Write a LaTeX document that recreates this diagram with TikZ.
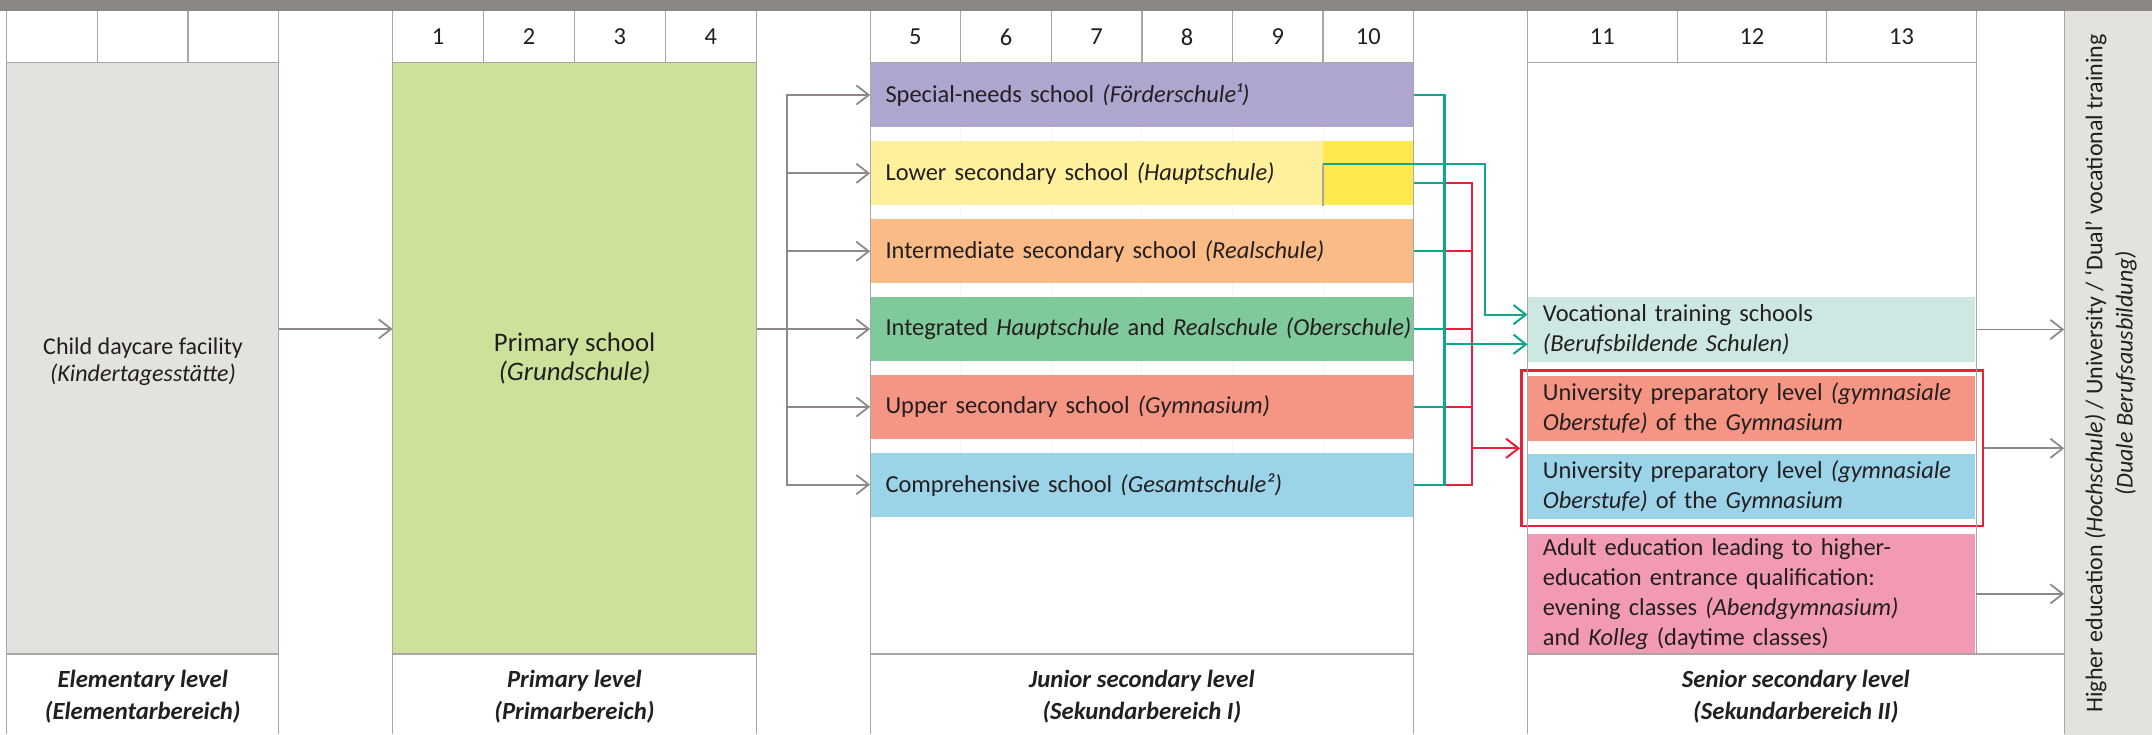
\documentclass[tikz,border=0pt]{standalone}
\usepackage{fontspec}
\setmainfont{Carlito}
\usetikzlibrary{arrows.meta,calc}
\definecolor{topbar}{HTML}{8C8784}
\definecolor{gridc}{HTML}{A9A6A4}
\definecolor{elemc}{HTML}{E3E2DE}
\definecolor{primc}{HTML}{CCE29B}
\definecolor{specc}{HTML}{AFA6CF}
\definecolor{lowc}{HTML}{FFF09B}
\definecolor{lowdc}{HTML}{FFE94E}
\definecolor{intc}{HTML}{FABB86}
\definecolor{integc}{HTML}{80C99B}
\definecolor{uppc}{HTML}{F59584}
\definecolor{compc}{HTML}{9BD3E9}
\definecolor{vocc}{HTML}{CDE8E2}
\definecolor{adultc}{HTML}{F29AB4}
\definecolor{tealc}{HTML}{12A68E}
\definecolor{redc}{HTML}{E8203A}
\definecolor{arrc}{HTML}{8E8986}
\definecolor{txtc}{HTML}{231F20}
\tikzset{
  gl/.style={draw=gridc, line width=0.9pt},
  faint/.style={line width=0.6pt},
  txt/.style={font=\fontsize{17.8}{22}\selectfont, text=txtc},
  numtxt/.style={txt, inner sep=0pt, anchor=center},
  jbox/.style={txt, anchor=north west, minimum height=46.6pt, text width=374pt, inner xsep=11pt, inner ysep=0pt, align=left},
  sbox/.style={txt, anchor=north west, text width=304pt, inner xsep=11pt, inner ysep=0pt, align=left},
  area/.style={anchor=north west, inner sep=0pt, draw=none},
  gline/.style={draw=arrc, line width=1.3pt},
  garrow/.style={gline, -{Straight Barb[length=9pt,width=14pt]}},
  tline/.style={draw=tealc, line width=1.5pt},
  rline/.style={draw=redc, line width=1.5pt},
  tarrow/.style={tline, -{Straight Barb[length=9pt,width=14pt]}},
  rarrow/.style={rline, -{Straight Barb[length=9pt,width=14pt]}},
  lvl/.style={font=\fontsize{18}{23}\selectfont\bfseries\itshape, text=txtc, align=center, inner sep=0pt},
}
\begin{document}
\begin{tikzpicture}[x=1pt,y=-1pt]
\useasboundingbox (0,0) rectangle (1568,535);
\fill[white] (0,0) rectangle (1568,535);
\fill[topbar] (0,0) rectangle (1568,8);

% large areas
\node[area, fill=elemc, minimum width=198pt, minimum height=430.8pt] (elem) at (5,45.7) {};
\node[area, fill=primc, minimum width=265pt, minimum height=430.8pt] (prim) at (286,45.7) {};
\node[area, fill=elemc, minimum width=64pt, minimum height=527pt] (hcol) at (1504,8) {};

% faint column lines in the white gaps of the junior section
\foreach \x in {700,766,832,898,964} \draw[faint, draw=black!4] (\x,45.7) -- (\x,377);

\node[txt, align=center, inner sep=0pt, font=\fontsize{17.5}{19.5}\selectfont] (elemtxt) at ($(elem.center)+(0,2)$) {Child daycare facility\\\textit{(Kindertagesstätte)}};
\node[txt, align=center, inner sep=0pt, font=\fontsize{19.5}{21.5}\selectfont] (primtxt) at (prim.center) {Primary school\\\textit{(Grundschule)}};
\node[txt, rotate=90, align=center, inner sep=0pt, font=\fontsize{17.5}{22}\selectfont] (hedu) at (1538,272) {Higher education \textit{(Hochschule)} / University / ‘Dual’ vocational training\\\textit{(Duale Berufsausbildung)}};

% junior boxes
\node[jbox, fill=specc] (sn) at (634,45.7) {Special-needs school \textit{(Förderschule¹)}};
\node[jbox, fill=lowc] (low) at (634,102.8) {Lower secondary school \textit{(Hauptschule)}};
\node[area, fill=lowdc, minimum width=66pt, minimum height=46.6pt] (low10) at (964,102.8) {};
\node[jbox, fill=intc] (inter) at (634,159.6) {Intermediate secondary school \textit{(Realschule)}};
\node[jbox, fill=integc] (integ) at (634,216.2) {\mbox{Integrated \textit{Hauptschule} and \textit{Realschule (Oberschule)}}};
\node[jbox, fill=uppc] (upper) at (634,273) {Upper secondary school \textit{(Gymnasium)}};
\node[jbox, fill=compc] (comp) at (634,329.6) {Comprehensive school \textit{(Gesamtschule²)}};

% senior boxes
\node[sbox, fill=vocc, minimum height=47.3pt] (voc) at (1113,216.2) {Vocational training schools\\\textit{(Berufsbildende Schulen)}};
\node[sbox, fill=uppc, minimum height=47pt] (supper) at (1113,274) {University preparatory level \textit{(gymnasiale}\\\textit{Oberstufe)} of the \textit{Gymnasium}};
\node[sbox, fill=compc, minimum height=47pt] (scomp) at (1113,330.8) {University preparatory level \textit{(gymnasiale}\\\textit{Oberstufe)} of the \textit{Gymnasium}};
\node[sbox, fill=adultc, minimum height=87.9pt] (adult) at (1113,388.6) {Adult education leading to higher-\\education entrance qualification:\\evening classes \textit{(Abendgymnasium)}\\and \textit{Kolleg} (daytime classes)};
\node[area, draw=redc, line width=1.8pt, minimum width=336.4pt, minimum height=113.5pt] (redbox) at (1107.6,269) {};

% grid
\foreach \a/\b in {5/203,286/551,634/1030,1113/1440} \draw[gl] (\a,45.7) -- (\b,45.7);
\foreach \x in {71,137,352.25,418.5,484.75,700,766,832,898,964,1222,1331} \draw[gl] (\x,8) -- (\x,45.7);
\foreach \x in {5,203,286,551,634,1030,1113,1504} \draw[gl] (\x,8) -- (\x,535);
\draw[gl] (1440,8) -- (1440,476.5);
\foreach \a/\b in {5/203,286/551,634/1030,1113/1504} \draw[gl] (\a,476.5) -- (\b,476.5);

% header numbers
\foreach \x/\t [count=\i] in {319.1/1,385.4/2,451.6/3,517.9/4,667/5,733/6,799/7,865/8,931/9,997/10,1167.5/11,1276.5/12,1385.5/13}
  \node[numtxt] (n\i) at (\x,27) {\t};

% level labels
\node[lvl] (lv1) at (104,507.5) {Elementary level\\(Elementarbereich)};
\node[lvl] (lv2) at (418.5,507.5) {Primary level\\(Primarbereich)};
\node[lvl] (lv3) at (832,507.5) {Junior secondary level\\(Sekundarbereich I)};
\node[lvl] (lv4) at (1308.5,507.5) {Senior secondary level\\(Sekundarbereich II)};

% gray connectors
\coordinate (trunk) at (573.7,0);
\draw[garrow] (elem.east |- integ.west) -- (prim.west |- integ.west);
\draw[gline] (prim.east |- integ.west) -- (trunk |- integ.west);
\draw[gline, line cap=rect] (trunk |- sn.west) -- (trunk |- comp.west);
\foreach \n in {sn,low,inter,integ,upper,comp} \draw[garrow] (trunk |- \n.west) -- (\n.west);
\draw[garrow] (voc.east) -- (voc.east -| hcol.west);
\draw[garrow] (redbox.east) -- (redbox.east -| hcol.west);
\draw[garrow] (adult.east) -- (adult.east -| hcol.west);

% teal and red connectors
\coordinate (tx) at (1052.5,0);
\coordinate (rx) at (1072.6,0);
\coordinate (t2x) at (1082,0);
\coordinate (lowA) at ($(low.east)+(0,-6.8)$);
\coordinate (lowB) at ($(low.east)+(0,7)$);
\coordinate (vocA) at ($(voc.west)+(0,-10.8)$);
\coordinate (vocB) at ($(voc.west)+(0,10.8)$);
\draw[gl] (low10.west |- lowA) -- (low10.south west);
\draw[rline] (tx |- lowB) -- (rx |- lowB) -- (rx |- comp.east) -- (tx |- comp.east);
\foreach \n in {inter,integ,upper} \draw[rline] (tx |- \n.east) -- (rx |- \n.east);
\draw[rarrow] (rx |- redbox.west) -- (redbox.west);
\draw[tline] (sn.east) -| (tx |- comp.east) -- (comp.east);
\foreach \n in {inter,integ,upper} \draw[tline] (\n.east) -- (tx |- \n.east);
\draw[tline] (low.east |- lowB) -- (tx |- lowB);
\draw[tarrow] (low10.west |- lowA) -| (t2x |- vocA) -- (vocA);
\draw[tarrow] (tx |- vocB) -- (vocB);
\end{tikzpicture}
\end{document}
